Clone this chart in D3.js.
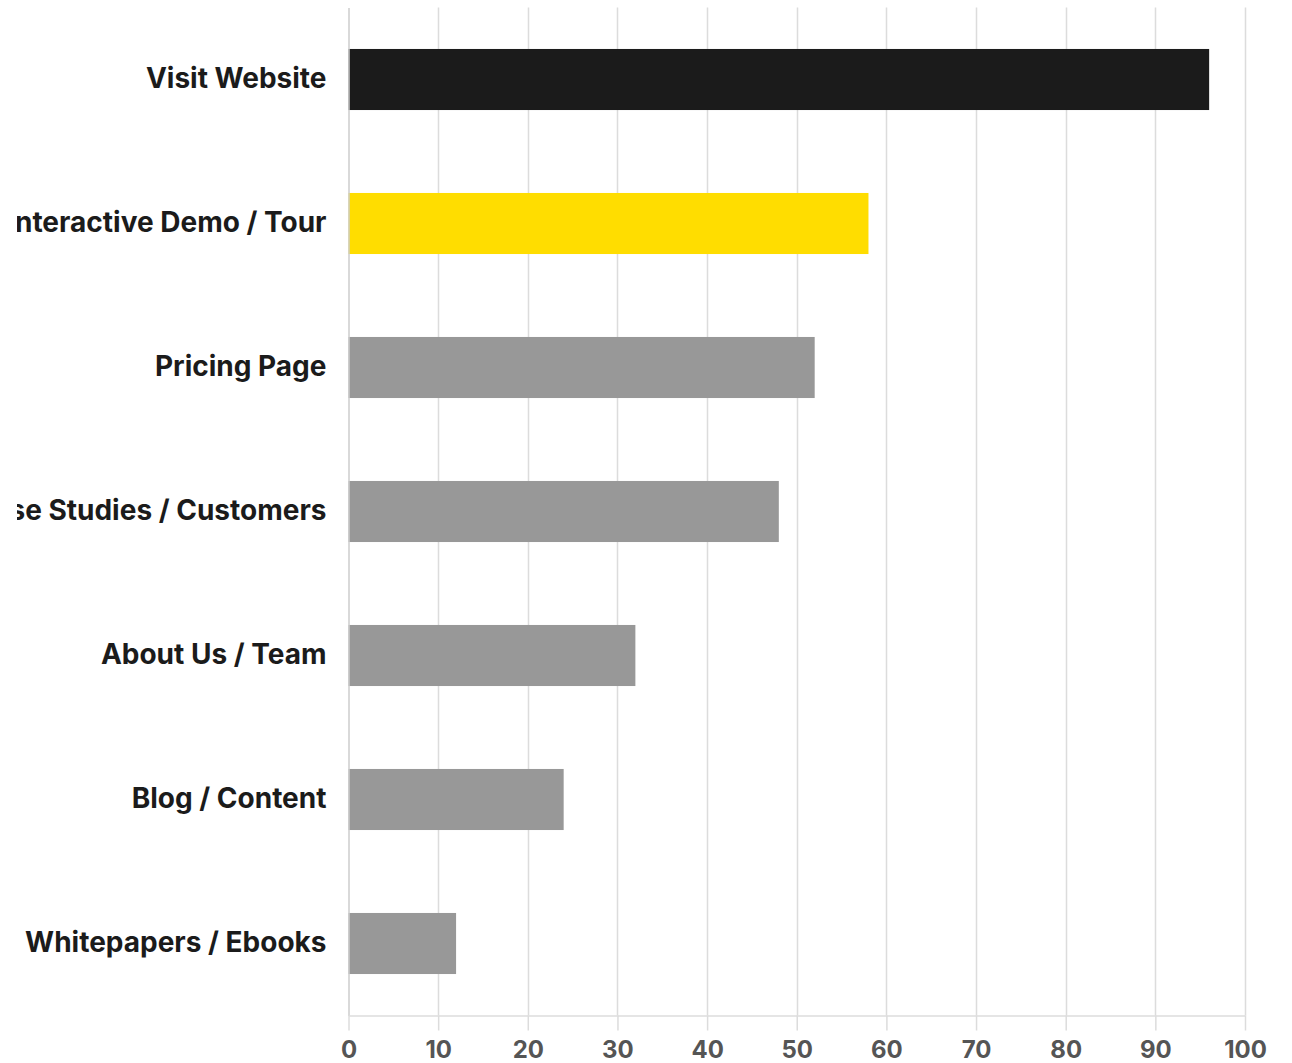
<!DOCTYPE html>
<html>
<head>
<meta charset="utf-8">
<script src="https://cdn.jsdelivr.net/npm/d3@7"></script>
<style>
  html, body { margin: 0; padding: 0; background: #fff; overflow: hidden; }
  svg { display: block; }
  text { font-family: Inter, "Noto Sans", sans-serif; }
</style>
</head>
<body>
<svg id="chart" width="1292" height="1063"></svg>
<script>
// Channels visited, top to bottom
const categories = [
  "Visit Website",
  "Interactive Demo / Tour",
  "Pricing Page",
  "Case Studies / Customers",
  "About Us / Team",
  "Blog / Content",
  "Whitepapers / Ebooks"
];
const values = [96, 58, 52, 48, 32, 24, 12];
const barColors = ["#1b1b1b", "#ffdd00", "#989898", "#989898", "#989898", "#989898", "#989898"];
const tickValues = [0, 10, 20, 30, 40, 50, 60, 70, 80, 90, 100];

const svg = d3.select("#chart");
const margin = { top: 7.5, left: 348.5, right: 47, bottom: 47.5 };
const W = 1292, H = 1063;
const viewLeft = 17; // visible area starts here; long labels run past it

svg.append("defs").append("clipPath").attr("id", "view")
  .append("rect").attr("x", viewLeft).attr("y", 0).attr("width", W - viewLeft).attr("height", H);

const root = svg.append("g").attr("clip-path", "url(#view)");

const x = d3.scaleLinear().domain([0, 100]).range([margin.left, W - margin.right]);
const y = d3.scaleBand()
  .domain(categories)
  .range([margin.top, H - margin.bottom])
  .paddingInner(0.576)
  .paddingOuter(0.288);

// vertical gridlines
root.append("g")
  .selectAll("line")
  .data(tickValues.slice(1))
  .join("line")
  .attr("x1", d => Math.round(x(d)) + 0.5)
  .attr("x2", d => Math.round(x(d)) + 0.5)
  .attr("y1", margin.top)
  .attr("y2", H - margin.bottom)
  .attr("stroke", "#dcdcdc")
  .attr("stroke-width", 1.5);

// bars
root.append("g")
  .selectAll("rect")
  .data(categories)
  .join("rect")
  .attr("x", x(0))
  .attr("y", d => y(d))
  .attr("width", (d, i) => x(values[i]) - x(0))
  .attr("height", y.bandwidth())
  .attr("fill", (d, i) => barColors[i]);

// category axis
const yAxis = root.append("g")
  .attr("transform", `translate(${x(0)},0)`)
  .call(d3.axisLeft(y).tickSize(0).tickPadding(22));
yAxis.select(".domain").attr("stroke", "#cccccc").attr("stroke-width", 1.5);
yAxis.selectAll("text")
  .attr("font-size", 28)
  .attr("font-weight", 700)
  .attr("fill", "#1b1b1b")
  .attr("font-family", "Inter, sans-serif");

// value axis
const xAxis = root.append("g")
  .attr("transform", `translate(0,${H - margin.bottom})`)
  .call(d3.axisBottom(x).tickValues(tickValues).tickSize(15).tickPadding(10).tickSizeOuter(0));
xAxis.select(".domain").attr("stroke", "#dcdcdc").attr("stroke-width", 1.5);
xAxis.selectAll(".tick line").attr("stroke", "#dcdcdc").attr("stroke-width", 1.5);
xAxis.selectAll("text")
  .attr("font-size", 24)
  .attr("font-weight", 700)
  .attr("fill", "#555555")
  .attr("font-family", "Inter, sans-serif");
</script>
</body>
</html>
